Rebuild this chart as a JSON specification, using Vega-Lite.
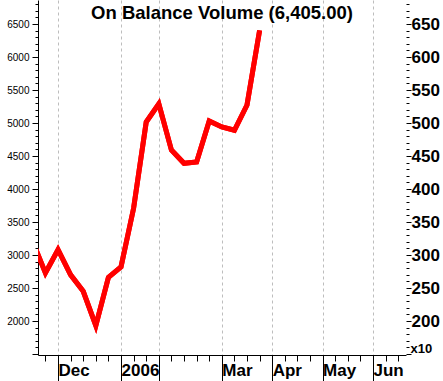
{
  "$schema": "https://vega.github.io/schema/vega-lite/v6.json",
  "width": 368,
  "height": 355,
  "autosize": {"type": "none"},
  "padding": {"left": 38, "top": 0, "right": 37, "bottom": 26},
  "background": "white",
  "config": {"view": {"stroke": null}, "font": "Liberation Sans"},
  "title": {
    "text": "On Balance Volume (6,405.00)",
    "fontSize": 18.5,
    "fontWeight": "bold",
    "font": "Liberation Sans",
    "color": "black",
    "anchor": "middle",
    "frame": "group",
    "baseline": "alphabetic",
    "offset": -42
  },
  "data": {
    "values": [
      {"date": "2005-11-18T00:00:00", "obv": 3200},
      {"date": "2005-11-25T00:00:00", "obv": 2730},
      {"date": "2005-12-02T00:00:00", "obv": 3080},
      {"date": "2005-12-09T00:00:00", "obv": 2700},
      {"date": "2005-12-16T00:00:00", "obv": 2450},
      {"date": "2005-12-23T00:00:00", "obv": 1930},
      {"date": "2005-12-30T00:00:00", "obv": 2660},
      {"date": "2006-01-06T00:00:00", "obv": 2820},
      {"date": "2006-01-13T00:00:00", "obv": 3710},
      {"date": "2006-01-20T00:00:00", "obv": 5015},
      {"date": "2006-01-27T00:00:00", "obv": 5290},
      {"date": "2006-02-03T00:00:00", "obv": 4590},
      {"date": "2006-02-10T00:00:00", "obv": 4390},
      {"date": "2006-02-17T00:00:00", "obv": 4410},
      {"date": "2006-02-24T00:00:00", "obv": 5030},
      {"date": "2006-03-03T00:00:00", "obv": 4940},
      {"date": "2006-03-10T00:00:00", "obv": 4890},
      {"date": "2006-03-17T00:00:00", "obv": 5273},
      {"date": "2006-03-24T00:00:00", "obv": 6405}
    ]
  },
  "layer": [
    {
      "mark": {"type": "line", "color": "#ff0000", "strokeWidth": 5, "clip": true},
      "encoding": {
        "x": {
          "field": "date",
          "type": "temporal",
          "scale": {"domain": [{"year": 2005, "month": 11, "date": 20, "hours": 21}, {"year": 2006, "month": 6, "date": 13, "hours": 8}]},
          "axis": {
            "orient": "bottom",
            "title": null,
            "values": [
              {"year": 2005, "month": 12, "date": 2},
              {"year": 2006, "month": 1, "date": 6},
              {"year": 2006, "month": 1, "date": 27},
              {"year": 2006, "month": 3, "date": 3},
              {"year": 2006, "month": 3, "date": 31},
              {"year": 2006, "month": 4, "date": 28},
              {"year": 2006, "month": 5, "date": 26}
            ],
            "grid": true,
            "gridColor": "#bdbdbd",
            "gridDash": [3, 3],
            "gridWidth": 1,
            "domain": true,
            "domainColor": "black",
            "domainWidth": 1,
            "ticks": true,
            "tickColor": "black",
            "tickSize": 26,
            "labelExpr": "timeFormat(time(datum.value) + 604800000, '%m') == '01' ? timeFormat(time(datum.value) + 604800000, '%Y') : timeFormat(time(datum.value) + 604800000, '%b')",
            "labelAlign": "left",
            "labelBaseline": "top",
            "labelPadding": -19,
            "labelDx": 3,
            "labelFontSize": 17,
            "labelFontWeight": "bold",
            "labelColor": "black",
            "labelOverlap": "greedy",
            "labelFlush": false
          }
        },
        "y": {
          "field": "obv",
          "type": "quantitative",
          "scale": {"domain": [1485, 6864], "zero": false, "nice": false},
          "axis": {
            "orient": "left",
            "title": null,
            "values": [1500, 1600, 1700, 1800, 1900, 2000, 2100, 2200, 2300, 2400, 2500, 2600, 2700, 2800, 2900, 3000, 3100, 3200, 3300, 3400, 3500, 3600, 3700, 3800, 3900, 4000, 4100, 4200, 4300, 4400, 4500, 4600, 4700, 4800, 4900, 5000, 5100, 5200, 5300, 5400, 5500, 5600, 5700, 5800, 5900, 6000, 6100, 6200, 6300, 6400, 6500, 6600, 6700, 6800],
            "grid": false,
            "domainColor": "black",
            "tickColor": "black",
            "tickSize": {"condition": {"test": "datum.value % 500 === 0", "value": 6}, "value": 3},
            "labelExpr": "datum.value % 500 === 0 && datum.value >= 2000 ? format(datum.value, 'd') : ''",
            "labelFontSize": 10,
            "labelColor": "black",
            "labelPadding": 3,
            "labelOverlap": false
          }
        }
      }
    },
    {
      "mark": {"type": "line", "color": "#ff0000", "strokeWidth": 5, "clip": true},
      "encoding": {
        "x": {
          "field": "date",
          "type": "temporal",
          "axis": {
            "orient": "bottom",
            "title": null,
            "values": [
              {"year": 2005, "month": 11, "date": 25},
              {"year": 2005, "month": 12, "date": 2},
              {"year": 2005, "month": 12, "date": 9},
              {"year": 2005, "month": 12, "date": 16},
              {"year": 2005, "month": 12, "date": 23},
              {"year": 2005, "month": 12, "date": 30},
              {"year": 2006, "month": 1, "date": 6},
              {"year": 2006, "month": 1, "date": 13},
              {"year": 2006, "month": 1, "date": 20},
              {"year": 2006, "month": 1, "date": 27},
              {"year": 2006, "month": 2, "date": 3},
              {"year": 2006, "month": 2, "date": 10},
              {"year": 2006, "month": 2, "date": 17},
              {"year": 2006, "month": 2, "date": 24},
              {"year": 2006, "month": 3, "date": 3},
              {"year": 2006, "month": 3, "date": 10},
              {"year": 2006, "month": 3, "date": 17},
              {"year": 2006, "month": 3, "date": 24},
              {"year": 2006, "month": 3, "date": 31},
              {"year": 2006, "month": 4, "date": 7},
              {"year": 2006, "month": 4, "date": 14},
              {"year": 2006, "month": 4, "date": 21},
              {"year": 2006, "month": 4, "date": 28},
              {"year": 2006, "month": 5, "date": 5},
              {"year": 2006, "month": 5, "date": 12},
              {"year": 2006, "month": 5, "date": 19},
              {"year": 2006, "month": 5, "date": 26},
              {"year": 2006, "month": 6, "date": 2},
              {"year": 2006, "month": 6, "date": 9}
            ],
            "grid": false,
            "domain": false,
            "labels": false,
            "ticks": true,
            "tickColor": "black",
            "tickSize": 6
          }
        },
        "y": {
          "field": "obv",
          "type": "quantitative",
          "axis": {
            "orient": "right",
            "values": [1500, 1600, 1700, 1800, 1900, 2000, 2100, 2200, 2300, 2400, 2500, 2600, 2700, 2800, 2900, 3000, 3100, 3200, 3300, 3400, 3500, 3600, 3700, 3800, 3900, 4000, 4100, 4200, 4300, 4400, 4500, 4600, 4700, 4800, 4900, 5000, 5100, 5200, 5300, 5400, 5500, 5600, 5700, 5800, 5900, 6000, 6100, 6200, 6300, 6400, 6500, 6600, 6700, 6800],
            "title": "x10",
            "titleAngle": 0,
            "titleAlign": "left",
            "titleBaseline": "alphabetic",
            "titleX": 4,
            "titleY": 352,
            "titleFontSize": 13,
            "titleFontWeight": "bold",
            "titleColor": "black",
            "grid": false,
            "domain": false,
            "tickColor": "black",
            "tickSize": {"condition": {"test": "datum.value % 500 === 0", "value": 5}, "value": 3},
            "labelExpr": "datum.value % 500 === 0 && datum.value >= 2000 ? format(datum.value / 10, 'd') : ''",
            "labelFontSize": 17,
            "labelFontWeight": "bold",
            "labelColor": "black",
            "labelPadding": 0,
            "labelOverlap": false
          }
        }
      }
    }
  ],
  "resolve": {"axis": {"x": "independent", "y": "independent"}}
}
